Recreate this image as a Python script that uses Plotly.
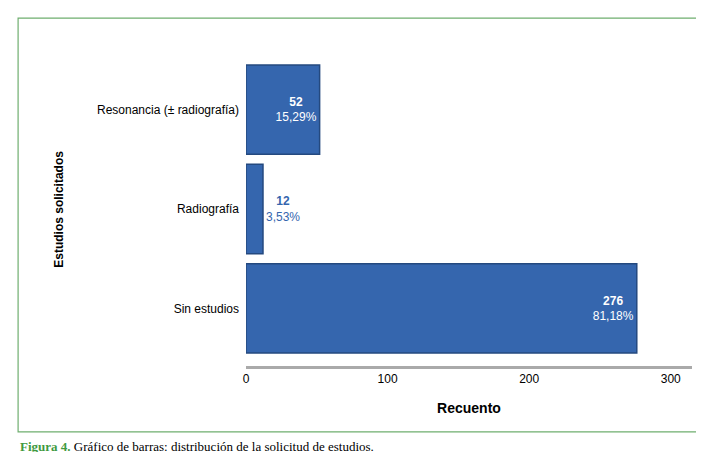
import plotly.graph_objects as go

categories = ["Sin estudios", "Radiografía", "Resonancia (± radiografía)"]
counts = [276, 12, 52]
percents = ["81,18%", "3,53%", "15,29%"]

inside = [c > 20 for c in counts]
texts = [f"<b>{c}</b><br>{p}" for c, p in zip(counts, percents)]

fig = go.Figure()
fig.add_trace(go.Bar(
    y=categories, x=counts, orientation="h",
    marker=dict(color="#3566ae", line=dict(color="#24497f", width=1.5)),
    text=texts,
    textposition=["inside" if i else "outside" for i in inside],
    insidetextanchor="end",
    textfont=dict(family="Liberation Sans, Arial", size=12,
                  color=["white" if i else "#3566ae" for i in inside]),
    outsidetextfont=dict(family="Liberation Sans, Arial", size=12, color="#3566ae"),
    width=0.9, cliponaxis=False,
))
fig.update_layout(
    width=704, height=452, plot_bgcolor="white", paper_bgcolor="white",
    margin=dict(l=238, r=20, t=44, b=94, autoexpand=False), showlegend=False,
    font=dict(family="Liberation Sans, Arial", size=12, color="black"),
    xaxis=dict(range=[0, 315], tickvals=[0, 100, 200, 300], showgrid=False,
               showline=True, linecolor="#aaaaaa", linewidth=3, ticks="", automargin=False,
               title=dict(text="<b>Recuento</b>", standoff=18), zeroline=False),
    yaxis=dict(showgrid=False, showline=False, ticks="", ticklabelstandoff=6,
               automargin=False, range=[-0.58, 2.58]),
    shapes=[dict(type="rect", xref="paper", yref="paper", x0=-0.511, x1=1.018,
                 y0=-0.210, y1=1.108, line=dict(color="#6fae6f", width=1.2))],
    annotations=[
        dict(text="<b>Estudios solicitados</b>", textangle=-90, xref="paper", yref="paper",
             x=-0.44, y=0.5, showarrow=False, font=dict(size=12)),
        dict(text="<b><span style='color:#3f9a3f'>Figura 4.</span></b> Gráfico de barras: distribución de la solicitud de estudios.",
             xref="paper", yref="paper", x=-0.511, y=-0.226, xanchor="left", yanchor="top",
             showarrow=False, font=dict(family="Liberation Serif, Times New Roman", size=13)),
    ],
)
fig.write_html("out.html")
